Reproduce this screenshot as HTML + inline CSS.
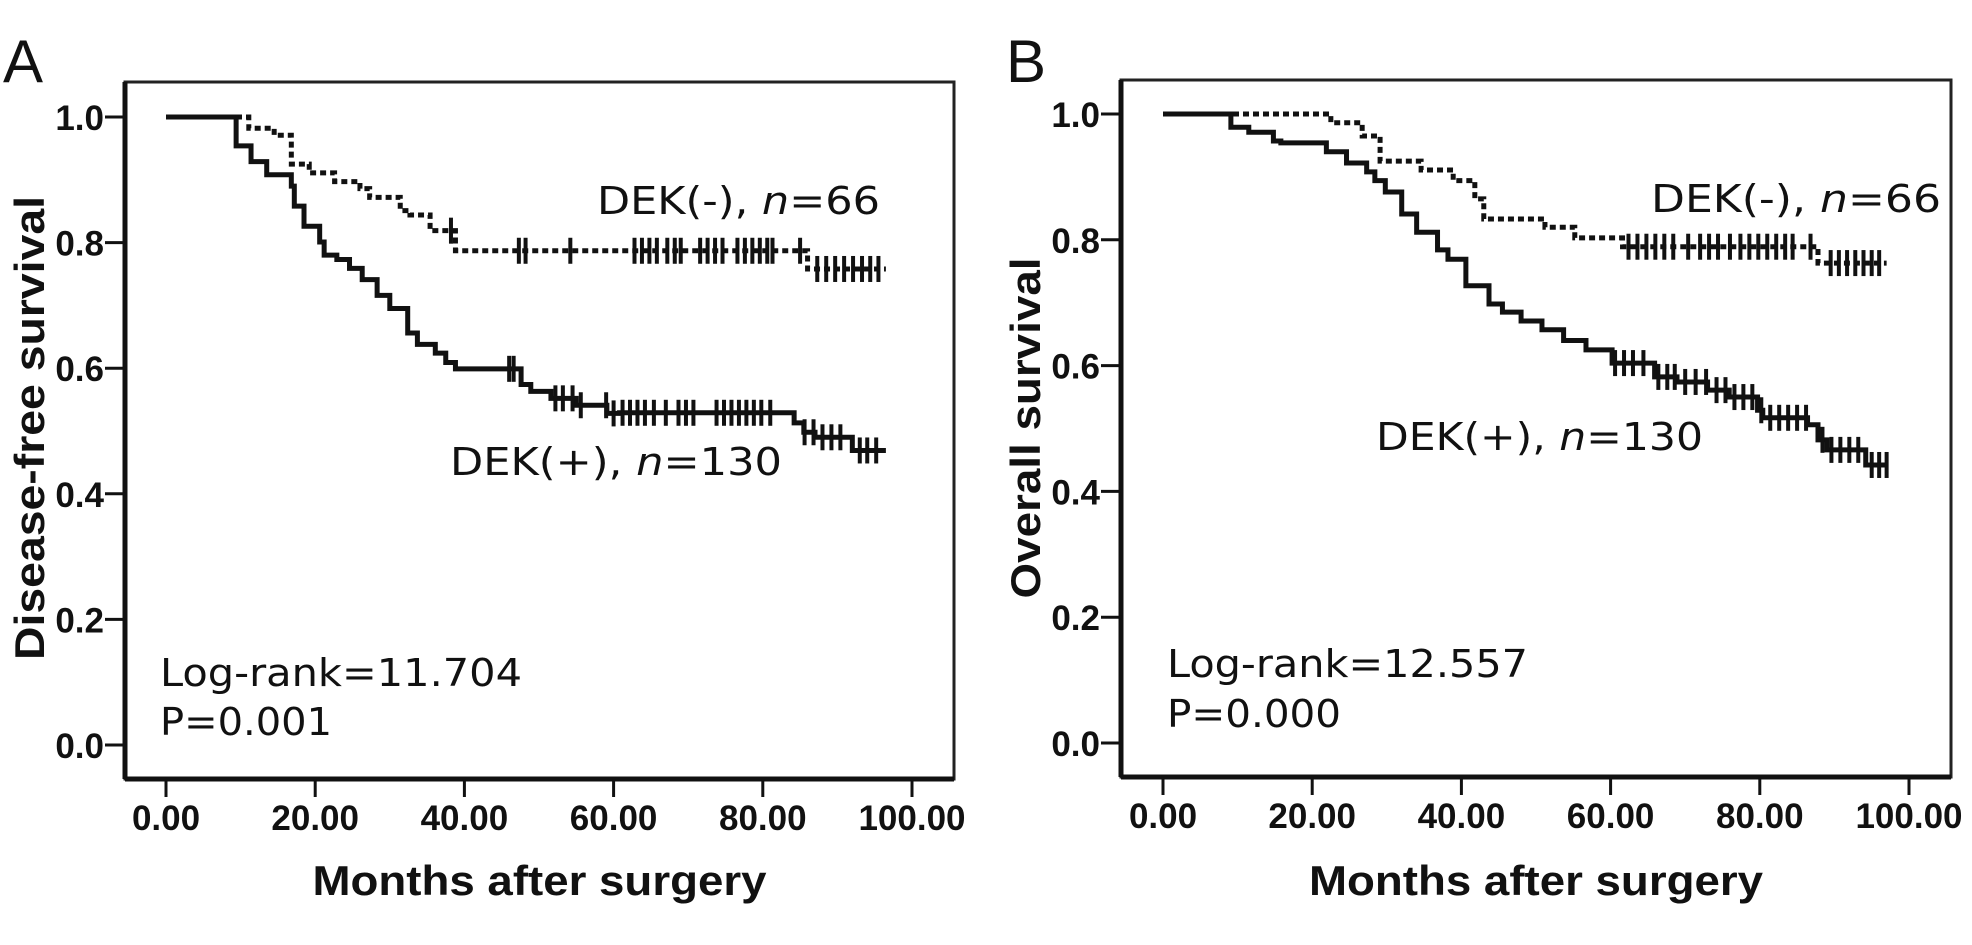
<!DOCTYPE html>
<html><head><meta charset="utf-8"><style>
html,body{margin:0;padding:0;background:#fff;}
svg{display:block;}
.tk{font-family:"Liberation Sans",Arial,sans-serif;font-weight:bold;font-size:35px;fill:#111;}
.ttl{font-family:"Liberation Sans",Arial,sans-serif;font-weight:bold;font-size:42px;fill:#111;}
.ann{font-family:"DejaVu Sans",Verdana,sans-serif;font-size:38px;fill:#111;}
.pl{font-family:"Liberation Sans",Arial,sans-serif;font-size:60px;fill:#111;}
</style></head><body>
<svg id="chart" width="1972" height="945" viewBox="0 0 1972 945">
<text class="pl" x="3" y="82">A</text>
<text class="pl" x="1006" y="82">B</text>
<g id="pa"></g>
<g id="pb"></g>
</svg>
<script>
// Panel A - Disease-free survival
const aNegT=[11.1,14.5,16.8,19.2,22.6,26,27.3,31.4,32.7,35.4,38.8,86];
const aNegS=[0.982,0.971,0.925,0.911,0.897,0.886,0.872,0.851,0.844,0.819,0.787,0.758];
const aNegEnd=96.5;
const aNegC=[38.2,47.3,48.2,54.2,62.8,63.8,64.8,65.8,67.2,68.2,69,71.6,72.6,73.6,74.6,76.6,77.6,78.6,79.6,80.6,81.3,85,87.3,88.5,89.7,90.9,92.1,93.3,94.4,95.5];
const aPosT=[9.4,11.4,13.5,16.8,17.2,18.5,20.6,21.2,22.9,24.6,26.3,28.3,30,32.4,33.7,36.1,37.5,38.8,47.6,48.9,51.6,55,59.1,60.8,84.2,85.5,87,92];
const aPosS=[0.954,0.929,0.908,0.89,0.858,0.826,0.801,0.78,0.773,0.759,0.741,0.716,0.695,0.656,0.638,0.624,0.609,0.599,0.574,0.563,0.552,0.541,0.528,0.529,0.513,0.498,0.49,0.469];
const aPosEnd=96.5;
const aPosC=[46,46.6,52.2,53.2,54.5,55.6,59,60,61.2,62.2,63.2,64.2,65.4,67,68.7,69.7,70.7,73.8,74.8,75.8,76.8,77.8,78.8,79.8,81,85.6,86.8,88,89.2,90.4,93,94,95.2];
// Panel B - Overall survival
const bNegT=[22.5,26.7,29.1,34.6,38.9,41.8,43,51.2,55.2,61.6,87.8];
const bNegS=[0.986,0.965,0.925,0.911,0.894,0.865,0.833,0.82,0.803,0.789,0.763];
const bNegEnd=97;
const bNegC=[62.4,63.6,64.8,66,67.2,68.4,70.4,72,73.2,74.4,76,77.4,78.6,79.8,81,82.2,83.4,84.4,86.8,89.5,90.6,91.7,92.8,93.9,95,96];
const bPosT=[9.1,11.5,14.8,15.8,21.9,24.6,27.3,28.4,29.8,32,34,36.8,38.2,40.6,43.7,45.5,48,50.8,53.7,56.7,60.2,65.9,68.9,73,75.9,79.7,80.4,86.4,87.8,89,94.2];
const bPosS=[0.979,0.971,0.957,0.954,0.94,0.922,0.908,0.894,0.876,0.841,0.812,0.784,0.769,0.727,0.698,0.685,0.671,0.657,0.64,0.625,0.604,0.582,0.574,0.561,0.55,0.529,0.517,0.506,0.482,0.466,0.442];
const bPosEnd=97;
const bPosC=[60.6,61.8,63,64.4,66.4,67.6,68.6,70,71.4,72.8,74.2,75.4,76.6,77.8,79,80.2,81.4,82.6,83.8,85,86.2,88.4,89.6,90.8,92,93.2,95,96,97];
const xTicks=[0,20,40,60,80,100];
const xTickLabels=["0.00","20.00","40.00","60.00","80.00","100.00"];
const yTicks=[0,0.2,0.4,0.6,0.8,1.0];
const yTickLabels=["0.0","0.2","0.4","0.6","0.8","1.0"];

const NS="http://www.w3.org/2000/svg";
function mk(parent,tag,attrs){const e=document.createElementNS(NS,tag);for(const k in attrs)e.setAttribute(k,attrs[k]);parent.appendChild(e);return e;}
function survAt(T,S,t){let s=1;for(let i=0;i<T.length;i++){if(T[i]<=t)s=S[i];}return s;}

function panel(g,cfg){
  const X=m=>cfg.x0+m*(cfg.x100-cfg.x0)/100;
  const Y=s=>cfg.y0-s*(cfg.y0-cfg.y1);
  const box=mk(g,'rect',{x:cfg.L,y:cfg.T,width:cfg.R-cfg.L,height:cfg.B-cfg.T,fill:'none',stroke:'#222','stroke-width':3});
  
  
  const la=mk(g,'line',{x1:cfg.L,y1:cfg.T,x2:cfg.L,y2:cfg.B,stroke:'#111','stroke-width':5});
  
  
  const ba=mk(g,'line',{x1:cfg.L,y1:cfg.B,x2:cfg.R,y2:cfg.B,stroke:'#111','stroke-width':5});
  
  
  yTicks.forEach((v,i)=>{
    const l=mk(g,'line',{x1:cfg.L-20,y1:Y(v),x2:cfg.L,y2:Y(v),stroke:'#111','stroke-width':3});
    
    
    const t=mk(g,'text',{class:'tk',x:cfg.L-21,y:Y(v)+13,'text-anchor':'end'});t.textContent=yTickLabels[i];
    
    
  });
  xTicks.forEach((v,i)=>{
    const l=mk(g,'line',{x1:X(v),y1:cfg.B,x2:X(v),y2:cfg.B+18,stroke:'#111','stroke-width':3});
    
    
    const t=mk(g,'text',{class:'tk',x:X(v),y:cfg.B+51,'text-anchor':'middle'});t.textContent=xTickLabels[i];
    
    
  });
  const xt=mk(g,'text',{class:'ttl',x:(cfg.L+cfg.R)/2,y:895,'text-anchor':'middle',textLength:454,lengthAdjust:'spacingAndGlyphs'});xt.textContent='Months after surgery';
  
  
  const yt=mk(g,'text',{class:'ttl',x:0,y:0,'text-anchor':'middle',transform:`translate(${cfg.ytx},428) rotate(-90)`,textLength:cfg.ytl,lengthAdjust:'spacingAndGlyphs'});yt.textContent=cfg.ytitle;
  
  
  function curve(T,S,end,C,dash,name){
    let d=`M${X(0)},${Y(1)}`;
    for(let i=0;i<T.length;i++){d+=` H${X(T[i])} V${Y(S[i])}`;}
    d+=` H${X(end)}`;
    const p=mk(g,'path',{d:d,fill:'none',stroke:'#111','stroke-width':5,'stroke-dasharray':dash?'6,4':'none'});
    
    
    C.forEach(c=>{
      const v=survAt(T,S,c);
      const m=mk(g,'line',{x1:X(c),y1:Y(v)-13,x2:X(c),y2:Y(v)+13,stroke:'#111','stroke-width':4});
      
      
    });
  }
  curve(cfg.negT,cfg.negS,cfg.negEnd,cfg.negC,true,'dek-negative');
  curve(cfg.posT,cfg.posS,cfg.posEnd,cfg.posC,false,'dek-positive');
  cfg.ann.forEach(a=>{
    const t=mk(g,'text',{class:'ann',x:a[0],y:a[1],textLength:a[3],lengthAdjust:'spacingAndGlyphs'});
    t.innerHTML=a[2];
    
    
  });
}
panel(document.getElementById('pa'),{L:125,T:82,R:954,B:779,x0:166,x100:912,y0:745,y1:117,ytx:44,ytl:464,ytitle:'Disease-free survival',
  negT:aNegT,negS:aNegS,negEnd:aNegEnd,negC:aNegC,posT:aPosT,posS:aPosS,posEnd:aPosEnd,posC:aPosC,
  ann:[[597,214,'DEK(-), <tspan font-style="italic">n</tspan>=66',283,'label-dek-negative'],[450,475,'DEK(+), <tspan font-style="italic">n</tspan>=130',332,'label-dek-positive'],[160,686,'Log-rank=11.704',362,'log-rank-stat'],[160,735,'P=0.001',172,'p-value']]});
panel(document.getElementById('pb'),{L:1121,T:80,R:1951,B:777,x0:1163,x100:1909,y0:743,y1:114,ytx:1040,ytl:341,ytitle:'Overall survival',
  negT:bNegT,negS:bNegS,negEnd:bNegEnd,negC:bNegC,posT:bPosT,posS:bPosS,posEnd:bPosEnd,posC:bPosC,
  ann:[[1651,212,'DEK(-), <tspan font-style="italic">n</tspan>=66',290,'label-dek-negative'],[1376,450,'DEK(+), <tspan font-style="italic">n</tspan>=130',327,'label-dek-positive'],[1167,677,'Log-rank=12.557',361,'log-rank-stat'],[1167,727,'P=0.000',174,'p-value']]});
</script>
</body></html>
